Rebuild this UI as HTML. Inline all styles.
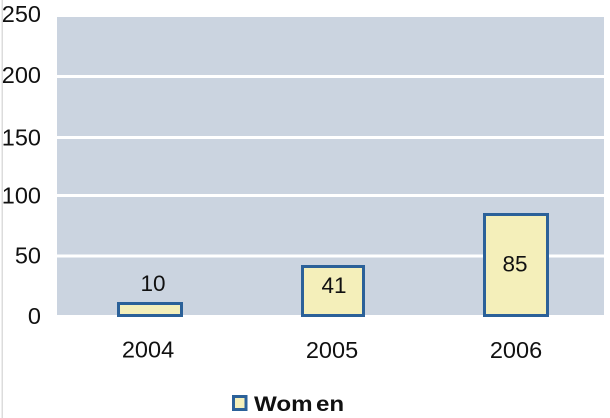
<!DOCTYPE html>
<html>
<head>
<meta charset="utf-8">
<style>
html,body{margin:0;padding:0;background:#fff;}
svg{display:block;}
text{font-family:"Liberation Sans",Arial,sans-serif;fill:#111;}
</style>
</head>
<body>
<svg width="610" height="418" viewBox="0 0 610 418" xmlns="http://www.w3.org/2000/svg">
  <rect x="0" y="0" width="610" height="418" fill="#fff"/>
  <rect x="1.5" y="0" width="1.5" height="418" fill="#dcdcdc"/>
  <!-- plot area -->
  <rect x="57" y="17" width="547" height="298" fill="#cbd4e0"/>
  <!-- gridlines -->
  <g fill="#ffffff">
    <rect x="56" y="75" width="548" height="3"/>
    <rect x="56" y="136" width="548" height="3"/>
    <rect x="56" y="194" width="548" height="3"/>
    <rect x="56" y="254.5" width="548" height="3"/>
  </g>
  <!-- y labels -->
  <g font-size="23.5" text-anchor="end">
    <text x="41" y="22">250</text>
    <text x="41" y="83">200</text>
    <text x="41" y="145.5">150</text>
    <text x="41" y="203.5">100</text>
    <text x="41" y="263.5">50</text>
    <text x="41" y="324">0</text>
  </g>
  <!-- bars -->
  <g fill="#f4efba" stroke="#2b6199" stroke-width="3">
    <rect x="118.5" y="303.5" width="63" height="12"/>
    <rect x="302.5" y="266.5" width="61" height="49"/>
    <rect x="484.5" y="214.5" width="63" height="101"/>
  </g>
  <!-- value labels -->
  <g font-size="22.5" text-anchor="middle">
    <text x="153" y="291">10</text>
    <text x="334" y="293">41</text>
    <text x="515" y="271.5">85</text>
  </g>
  <!-- x labels -->
  <g font-size="23.5" text-anchor="middle">
    <text x="148" y="357.5">2004</text>
    <text x="332" y="358">2005</text>
    <text x="516" y="358">2006</text>
  </g>
  <!-- legend -->
  <rect x="233.5" y="396.5" width="12.5" height="13" fill="#f4efba" stroke="#2b6199" stroke-width="3"/>
  <text transform="translate(254,411) scale(1.15,1)" x="0" y="0" font-size="21" font-weight="bold">Wom<tspan dx="3">en</tspan></text>
</svg>
</body>
</html>
